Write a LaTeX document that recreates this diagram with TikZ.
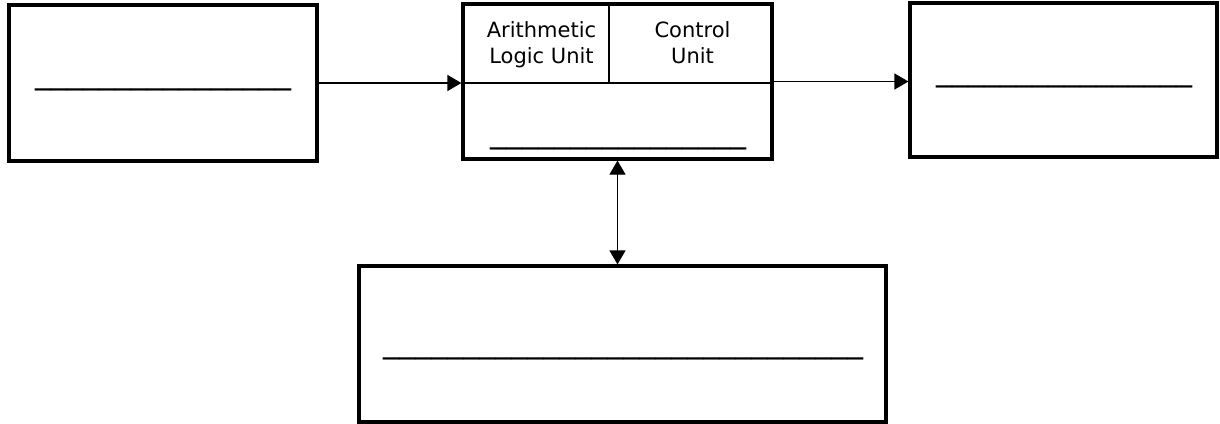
\documentclass[tikz,border=0pt]{standalone}
\usepackage{fontspec}
\setmainfont{DejaVu Sans}
\usetikzlibrary{arrows.meta}
\begin{document}
\begin{tikzpicture}[x=0.5pt,y=-0.5pt,
  box/.style={draw=black, line width=1.6pt, inner sep=0pt, rectangle},
  divider/.style={draw=black, line width=1.1pt},
  arr/.style={draw=black, line width=0.6pt, -{Triangle[length=7pt,width=8pt]}},
  darr/.style={draw=black, line width=0.6pt, {Triangle[length=7pt,width=8pt]}-{Triangle[length=7pt,width=8pt]}},
  lbl/.style={font=\fontsize{10.5pt}{13pt}\selectfont, align=center, inner sep=0pt, anchor=base},
  blank/.style={font=\fontsize{16pt}{18pt}\selectfont, inner sep=0pt, anchor=base}]
\useasboundingbox (0,0) rectangle (1220,423);
% boxes
\node[box, minimum width=154pt, minimum height=78pt] (in) at (163,83) {};
\node[box, minimum width=154.5pt, minimum height=77.5pt] (cpu) at (617.5,81.5) {};
\node[box, minimum width=153.5pt, minimum height=77pt] (out) at (1063.5,80) {};
\node[box, minimum width=263.5pt, minimum height=78pt] (mem) at (622.5,344) {};
% cpu dividers
\coordinate (dl) at (463,83);
\coordinate (dr) at (772,83);
\coordinate (vt) at (609,4);
\coordinate (vb) at (609,83);
\draw[divider] (dl) -- (dr);
\draw[divider] (vt) -- (vb);
% labels
\node[lbl] (alu) at (541.5,63.5) {Arithmetic\\Logic Unit};
\node[lbl] (cu) at (692.5,63.5) {Control\\Unit};
% blanks
\node[blank] (inb) at (163.5,83) {\_\_\_\_\_\_\_\_\_\_\_\_\_\_\_\_};
\node[blank] (cpub) at (618.5,142) {\_\_\_\_\_\_\_\_\_\_\_\_\_\_\_\_};
\node[blank] (outb) at (1064.5,80) {\_\_\_\_\_\_\_\_\_\_\_\_\_\_\_\_};
\node[blank] (memb) at (623,352) {\_\_\_\_\_\_\_\_\_\_\_\_\_\_\_\_\_\_\_\_\_\_\_\_\_\_\_\_\_\_};
% connectors
\draw[arr] (in.east) -- (in.east -| cpu.west);
\draw[arr] (cpu.east) -- (cpu.east -| out.west);
\draw[darr] (cpu.south) -- (cpu.south |- mem.north);
\end{tikzpicture}
\end{document}
